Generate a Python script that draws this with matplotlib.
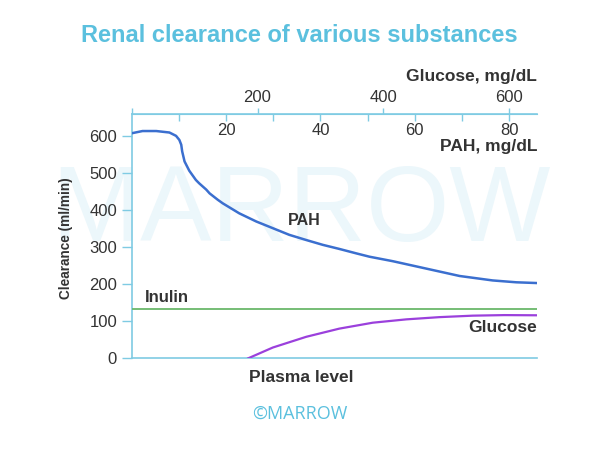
import matplotlib
matplotlib.use("Agg")
import matplotlib.pyplot as plt

plt.rcParams["font.family"] = ["Liberation Sans", "DejaVu Sans"]

# curves (x in PAH mg/dL, y in ml/min)
pah_x = [0, 2.3, 5.2, 8.0, 9.4, 10.1, 10.5, 10.7, 11.2, 12.2, 13.6, 14.3, 15.8,
         16.5, 18.2, 19.3, 22.8, 26.4, 29.9, 33.4, 37.0, 40.5, 44.0, 47.6,
         50.4, 55.3, 62.4, 69.5, 76.5, 81.5, 85.8]
pah_y = [607, 613, 613, 609, 600, 589, 576, 558, 531, 506, 481, 472, 455,
         445, 428, 418, 391, 369, 351, 333, 319, 306, 295, 283,
         274, 262, 242, 222, 210, 205, 203]

inulin_x = [0, 85.8]
inulin_y = [134, 134]

glucose_x = [24.7, 29.9, 37.0, 44.0, 51.1, 58.2, 65.2, 72.3, 79.0, 85.8]
glucose_y = [0, 29, 58, 80, 96, 105, 111, 115, 116.5, 116]

y_ticks = [0, 100, 200, 300, 400, 500, 600]
pah_major = [20, 40, 60, 80]
pah_minor = [10, 30, 50, 70]
glucose_ticks = [0, 200, 400, 600]
glucose_labels = ["", "200", "400", "600"]

axis_col = "#7fcbe3"
text_col = "#333333"

fig = plt.figure(figsize=(6, 4.5), dpi=100)
ax = fig.add_axes([0.2195, 0.2038, 0.6755, 0.5429])

# faint watermark, behind the axes
fig.text(301 / 600, 1 - 213 / 450, "MARROW", ha="center", va="center",
         fontsize=77, color="#ecf7fb", zorder=-1)

ax.plot(pah_x, pah_y, color="#3b6fcf", lw=1.8, zorder=3, solid_joinstyle="round")
ax.plot(inulin_x, inulin_y, color="#6ab86a", lw=1.3, zorder=3)
ax.plot(glucose_x, glucose_y, color="#9b40dc", lw=1.6, zorder=3, solid_joinstyle="round")

ax.set_xlim(0, 85.9)
ax.set_ylim(0, 659)
ax.patch.set_alpha(0)

for s in ["left", "bottom", "top"]:
    ax.spines[s].set_color(axis_col)
    ax.spines[s].set_linewidth(1.2)
ax.spines["right"].set_visible(False)

ax.set_yticks(y_ticks)
ax.tick_params(axis="y", direction="out", length=7, width=1, color=axis_col,
               labelsize=12, labelcolor=text_col, pad=3.5)

# PAH scale on top, ticks and labels inside
ax.xaxis.tick_top()
ax.set_xticks(pah_major)
ax.set_xticks(pah_minor, minor=True)
ax.tick_params(axis="x", which="both", direction="in", length=5, width=1,
               color=axis_col, labelsize=12, labelcolor=text_col, pad=-17)
ax.set_xticklabels([str(v) for v in pah_major])

# glucose scale on top, ticks outwards
sec = ax.secondary_xaxis("top", functions=(lambda x: x * 7.5, lambda g: g / 7.5))
sec.set_xticks(glucose_ticks)
sec.set_xticklabels(glucose_labels)
sec.spines["top"].set_color(axis_col)
sec.tick_params(axis="x", direction="out", length=4.5, width=1, color=axis_col,
                labelsize=12, labelcolor=text_col, pad=2)

ax.text(2.7, 163, "Inulin", fontsize=12, fontweight="bold", color=text_col,
        va="center", ha="left")
ax.text(36.6, 373, "PAH", fontsize=11.5, fontweight="bold", color=text_col,
        va="center", ha="center")
ax.text(85.8, 82, "Glucose", fontsize=12.5, fontweight="bold", color=text_col,
        va="center", ha="right")

fig.text(0.895, 1 - 77 / 450, "Glucose, mg/dL", fontsize=12.5, fontweight="bold",
         color=text_col, ha="right", va="center")
fig.text(0.895, 1 - 147 / 450, "PAH, mg/dL", fontsize=12.5, fontweight="bold",
         color=text_col, ha="right", va="center")
fig.text(301 / 600, 1 - 377 / 450, "Plasma level", fontsize=12.5, fontweight="bold",
         color=text_col, ha="center", va="center")
fig.text(66 / 600, 1 - 238 / 450, "Clearance (ml/min)", fontsize=9.8, fontweight="bold",
         color=text_col, ha="center", va="center", rotation=90)

fig.text(299 / 600, 1 - 35 / 450, "Renal clearance of various substances",
         fontsize=17, fontweight="bold", color="#5bc0de", ha="center", va="center")
fig.text(300 / 600, 1 - 414 / 450, "©MARROW", fontsize=13,
         family=["Open Sans", "DejaVu Sans"], color="#5bc0de", ha="center", va="center")

fig.savefig("out.png", dpi=100)
